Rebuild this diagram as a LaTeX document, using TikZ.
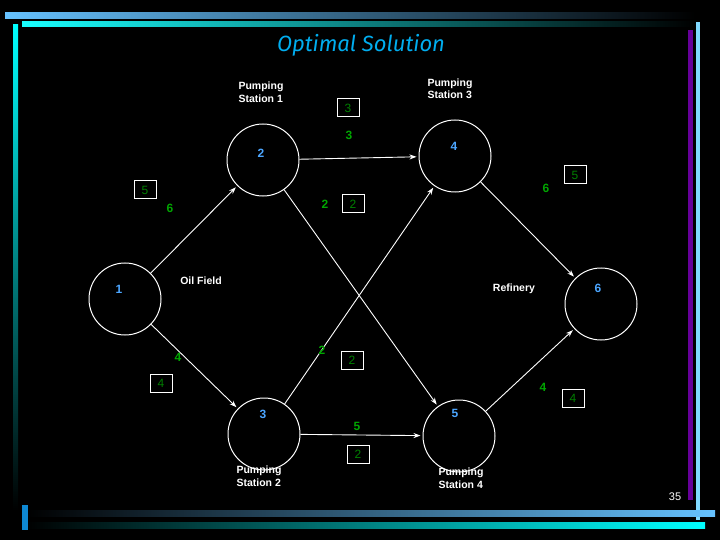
\documentclass[tikz,border=0pt]{standalone}
\usepackage{fontspec}
\usetikzlibrary{arrows.meta}
\setmainfont{Liberation Sans}
\newfontfamily\titlefont{Fira Sans}
\begin{document}
\begin{tikzpicture}[x=1pt,y=-1pt,
  circ/.style={circle,draw=white,line width=1pt,minimum size=72pt,inner sep=0pt},
  nnum/.style={text=blue!50!cyan!70!white,font=\bfseries\fontsize{12}{12}\selectfont},
  flow/.style={text=green!65!black,font=\bfseries\fontsize{12}{12}\selectfont},
  capbox/.style={draw=white,line width=1pt,text=green!50!black,font=\fontsize{12}{12}\selectfont,minimum width=22pt,minimum height=18pt,inner sep=0pt},
  lbl/.style={text=white,font=\bfseries\fontsize{10.5}{12.5}\selectfont,align=left},
  arr/.style={draw=white,line width=0.9pt,-{Stealth[length=7pt,width=5pt]},shorten >=2pt}]
\fill[black] (0,0) rectangle (720,540);
\useasboundingbox (0,0) rectangle (720,540);
% decorative bars
\shade[left color=blue!40!cyan!60!white,right color=black] (5,13) rectangle (695,19);
\shade[left color=cyan!90!white,right color=black] (22,22) rectangle (695,27);
\fill[blue!30!cyan!50!white] (696,22) rectangle (700,520);
\fill[violet!80!blue] (688,30) rectangle (693,500);
\shade[top color=cyan,bottom color=black] (13,25) rectangle (18,510);
\shade[left color=black,right color=blue!40!cyan!60!white] (25,510) rectangle (715,516);
\shade[left color=black,right color=cyan] (25,522) rectangle (705,528);
\fill[cyan!70!blue] (22,505) rectangle (28,530);
\node[text=cyan,font=\titlefont\itshape\fontsize{22}{22}\selectfont] (title) at (361,45) {Optimal Solution};
% nodes
\node[circ] (n1) at (125,299) {};
\node[circ] (n2) at (263,160) {};
\node[circ] (n4) at (455,156) {};
\node[circ] (n3) at (264,434) {};
\node[circ] (n5) at (459,436) {};
\node[circ] (n6) at (601,304) {};
\node[nnum] (t1) at (119,289) {1};
\node[nnum] (t2) at (261,153) {2};
\node[nnum] (t4) at (454,146) {4};
\node[nnum] (t3) at (263,414) {3};
\node[nnum] (t5) at (455,413) {5};
\node[nnum] (t6) at (598,288) {6};
% edges
\draw[arr] (n1) -- (n2);
\draw[arr] (n2) -- (n4);
\draw[arr] (n2) -- (n5);
\draw[arr] (n1) -- (n3);
\draw[arr] (n3) -- (n4);
\draw[arr] (n3) -- (n5);
\draw[arr] (n4) -- (n6);
\draw[arr] (n5) -- (n6);
% labels
\node[lbl] (l1) at (261,92) {Pumping\\Station 1};
\node[lbl] (l3) at (450,89) {Pumping\\Station 3};
\node[lbl] (l2) at (259,476) {Pumping\\Station 2};
\node[lbl] (l4) at (461,478) {Pumping\\Station 4};
\node[lbl] (lo) at (201,281) {Oil Field};
\node[lbl] (lr) at (514,289) {Refinery};
% flows and capacities
\node[capbox] (c12) at (145,190) {5};  \node[flow] (f12) at (170,208) {6};
\node[capbox] (c24) at (348,108) {3};  \node[flow] (f24) at (349,135) {3};
\node[flow] (f25) at (325,204) {2}; \node[capbox] (c25) at (353,204) {2};
\node[flow] (f46) at (546,188) {6}; \node[capbox] (c46) at (575,175) {5};
\node[flow] (f13) at (178,357) {4}; \node[capbox] (c13) at (161,383) {4};
\node[flow] (f34) at (322,350) {2}; \node[capbox] (c34) at (352,360) {2};
\node[flow] (f35) at (357,426) {5}; \node[capbox] (c35) at (358,454) {2};
\node[flow] (f56) at (543,387) {4}; \node[capbox] (c56) at (573,398) {4};
\node[text=white,font=\fontsize{11}{11}\selectfont] (pg) at (675,497) {35};
\end{tikzpicture}
\end{document}
